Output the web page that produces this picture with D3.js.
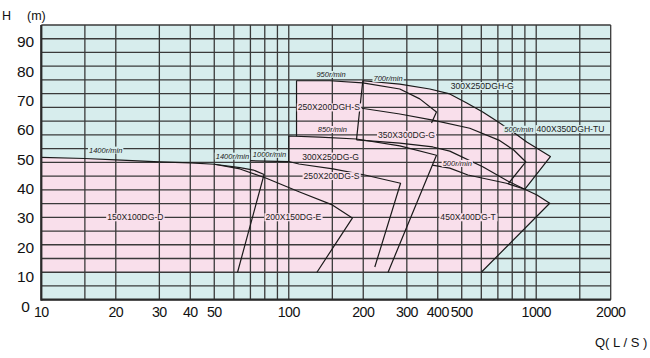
<!DOCTYPE html>
<html><head><meta charset="utf-8">
<script src="https://cdn.jsdelivr.net/npm/d3@7"></script>
<style>
body{margin:0;background:#fff}
svg{display:block}
text{font-family:"Liberation Sans",Arial,Helvetica,sans-serif}
</style>
</head><body>
<svg id="chart" width="650" height="358"></svg>
<script>
// ---------- data (Q in L/S, H in m as read on the grid) ----------
const xGridValues = [10,15,20,30,40,50,60,70,80,90,100,150,200,300,400,500,600,700,800,900,1000,1500,2000];
const xTickValues = [10,20,30,40,50,100,200,300,400,500,1000,2000];
const yTickValues = [0,10,20,30,40,50,60,70,80,90];
const yGridValues = d3.range(0,101,5);

// outline of the coloured operating zone
const pinkArea = [[10,51.8],[15,51.4],[20,50.9],[30,50.2],[40,49.8],[50,49.3],[63.5,48.1],[70,47.4],
  [70,50.6],[100,50.3],[100,59.6],[107.5,59.5],[107.5,79.7],[146.6,79.7],[199.2,79.7],
  [281,78.5],[371.5,76.7],[447.4,74.9],[524,71.6],[608,68.3],[692.5,65.05],[796.5,61.4],[915.5,57.4],[1141,52.1],
  [898.6,40.2],[1007,38.1],[1134,35.1],[600,10],[10,10]];

// pump curves (top curve followed by right-hand limit line)
const pump150D   = [[10,51.8],[15,51.4],[20,50.9],[30,50.2],[40,49.8],[50,49.3],[63.5,48.1],[72,47.2],[79.5,45.6],[62.1,10]];
const pump200E   = [[50,49.3],[63.5,47.6],[81.2,44.2],[110,39.3],[150,34.5],[180.7,29.7],[130,10]];
const pump250S   = [[70,50.6],[100,50.3],[110,49.4],[150.8,47.6],[203,45.4],[283,42.4],[222.7,11.9]];
const pump300G   = [[100,50.3],[100,59.6],[133.5,59.2],[187.8,58.5],[281,56.0],[395.3,52.6],[252,10]];
const pump250DGH = [[107.5,59.5],[107.5,79.7],[146.6,79.7],[199.2,78.9],[281,76.7],[338.4,73.1],[395.3,68.3],[377.5,64.3]];
const pump300DGH = [[187.8,58.2],[199.2,79.7],[281,78.5],[371.5,76.7],[447.4,74.9],[524,71.6],[608,68.3],[692.5,65.05],[796.5,61.4],[915.5,57.4],[1141,52.1],[898.6,40.2]];
const pump300DGHLow = [[187.8,58.2],[281,57.0],[382.1,55.6],[447.4,54.1],[608,48.4],[767,43.2],[898.6,40.2]];
const pump350G   = [[197.4,69.7],[281,67.6],[382.1,65.4],[539,62.4],[706,58.1],[811,54.5],[907,50.2],[769,42.1]];
const pump450T   = [[380,49.0],[447.4,47.9],[529.6,45.4],[758,42.4],[898.6,40.2],[1007,38.1],[1134,35.1],[600,10]];

const speedLabels = [["1400r/min",18.2,54.5],["1400r/min",59.2,52.3],["1000r/min",83.6,53.0],
  ["850r/min",150,62.0],["950r/min",148.2,82.05],["700r/min",252,80.6],["500r/min",851,62.1],["500r/min",479.7,49.65]];
const pumpLabels = [["150X100DG-D",24.0,30],["200X150DG-E",104.4,30],["250X200DG-S",148.9,45],
  ["300X250DG-G",147.6,52.1],["250X200DGH-S",145.2,70],["350X300DG-G",299,60],
  ["300X250DGH-G",605,77.8],["400X350DGH-TU",1376,62.1],["450X400DG-T",530.5,30]];

// ---------- drawing ----------
const svg = d3.select("#chart");
const x = d3.scaleLog().domain([10,2000]).range([41.3,610.7]);
const y = d3.scaleLinear().domain([0,100]).range([299.7,25]);
const yLabel = d3.scaleLinear().domain([0,90]).range([306,41.7]);
const teal = "#d7eded", pink = "#f9dfeb", gridC = "#3a3a3a";

svg.append("rect").attr("x",x(10)).attr("y",y(100)).attr("width",x(2000)-x(10)).attr("height",y(0)-y(100)).attr("fill",teal);

const line = d3.line().x(d=>x(d[0])).y(d=>y(d[1]));
svg.append("path").attr("d",line(pinkArea)+"Z").attr("fill",pink);

const g = svg.append("g");
g.selectAll("line.v").data(xGridValues).join("line")
  .attr("x1",d=>x(d)).attr("x2",d=>x(d)).attr("y1",y(0)).attr("y2",y(100))
  .attr("stroke",gridC).attr("stroke-width",1.3);
g.selectAll("line.h").data(yGridValues).join("line")
  .attr("y1",d=>y(d)).attr("y2",d=>y(d)).attr("x1",x(10)).attr("x2",x(2000))
  .attr("stroke",gridC).attr("stroke-width",1.3);

[pump150D,pump200E,pump250S,pump300G,pump250DGH,pump300DGH,pump300DGHLow,pump350G,pump450T].forEach(p=>{
  svg.append("path").attr("d",line(p)).attr("fill","none").attr("stroke","#1a1a1a").attr("stroke-width",1.2).attr("stroke-linejoin","round");
});

// axes frame
svg.append("line").attr("x1",x(10)).attr("x2",x(10)).attr("y1",y(0)+1).attr("y2",y(100)).attr("stroke","#2a2a2a").attr("stroke-width",2.2);
svg.append("line").attr("x1",x(10)).attr("x2",x(2000)).attr("y1",y(0)).attr("y2",y(0)).attr("stroke","#2a2a2a").attr("stroke-width",2.2);

const areaPx = pinkArea.map(d=>[x(d[0]),y(d[1])]);
function addLabel(t,q,h,size,italic){
  const gg = svg.append("g");
  const r = gg.append("rect");
  const tx = gg.append("text").attr("x",x(q)).attr("y",y(h)).attr("dy","0.35em")
    .attr("text-anchor","middle").attr("font-size",size).attr("fill","#222")
    .attr("font-style",italic?"italic":"normal").text(t);
  const b = tx.node().getBBox();
  const inside = d3.polygonContains(areaPx,[x(q),y(h)]);
  r.attr("x",b.x-1).attr("y",b.y+1).attr("width",b.width+2).attr("height",b.height-2).attr("fill",inside?pink:teal);
}
speedLabels.forEach(d=>addLabel(d[0],d[1],d[2],7.5,true));
pumpLabels.forEach(d=>addLabel(d[0],d[1],d[2],8.6,false));

// tick labels
svg.append("g").selectAll("text").data(xTickValues).join("text")
  .attr("x",d=>x(d)).attr("y",317).attr("text-anchor","middle").attr("font-size",14.2)
  .attr("letter-spacing","-0.6px").attr("fill","#111").text(d=>d);
svg.append("g").selectAll("text").data(yTickValues).join("text")
  .attr("x",25.5).attr("y",d=>yLabel(d)).attr("dy","0.36em").attr("text-anchor","middle").attr("font-size",15.5).attr("fill","#111").text(d=>d);

svg.append("text").attr("x",2).attr("y",19.5).attr("font-size",12.5).attr("fill","#111").text("H");
svg.append("text").attr("x",27).attr("y",19.5).attr("font-size",12.5).attr("fill","#111").text("(m)");
svg.append("text").attr("x",595).attr("y",347).attr("font-size",13).attr("fill","#111").text("Q( L / S )");
</script>
</body></html>
